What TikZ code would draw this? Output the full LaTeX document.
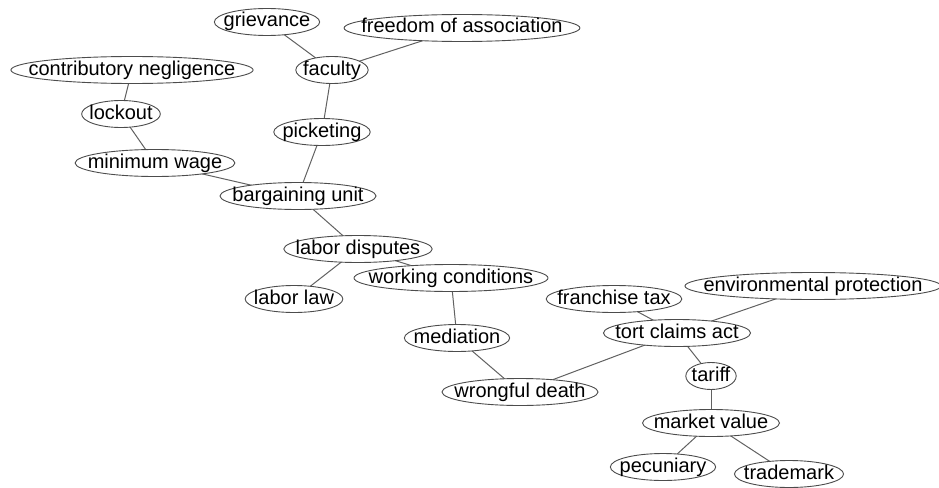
\documentclass[tikz,border=0pt]{standalone}
\usepackage{fontspec}
\setmainfont{Liberation Sans}
\usepackage{tikz}
\usetikzlibrary{calc,backgrounds}

\tikzset{term/.style={font=\fontsize{20}{22}\selectfont,inner sep=0pt,text height=14pt,text depth=4pt},
  link/.style={draw=black!62,line width=1pt},
  oval/.style={draw=black!70,fill=white,line width=0.9pt}}

\begin{document}
\begin{tikzpicture}[x=1pt,y=-1pt]
  \useasboundingbox (0,0) rectangle (939,487);
  \node (griev) at (267,22)[term]{grievance};
     \node (freedom) at (462,28)[term]{freedom of association};
  \node (contrib) at (132,70)[term]{contributory negligence};
     \node (faculty) at (332,70)[term]{faculty};
  \node (lockout) at (121,114)[term]{lockout};
     \node (picket) at (322,132)[term]{picketing};
  \node (minwage) at (155,163)[term]{minimum wage};
     \node (bargain) at (298,196)[term]{bargaining unit};
  \node (labdisp) at (358,249)[term]{labor disputes};
     \node (workcond) at (451,278)[term]{working conditions};
  \node (lablaw) at (294,299)[term]{labor law};
     \node (franch) at (614,299)[term]{franchise tax};
  \node (envprot) at (813,286)[term]{environmental protection};
     \node (tort) at (677,333)[term]{tort claims act};
  \node (mediat) at (457,338)[term]{mediation};
     \node (tariff) at (711,376)[term]{tariff};
  \node (wrongd) at (520,392)[term]{wrongful death};
     \node (market) at (711,423)[term]{market value};
  \node (pecun) at (663,467)[term]{pecuniary};
     \node (trade) at (789,474)[term]{trademark};
  \begin{scope}[on background layer]
    \draw [link] (griev.center) -- (faculty.center);
    \draw [link] (freedom.center) -- (faculty.center);
    \draw [link] (faculty.center) -- (picket.center);
    \draw [link] (contrib.center) -- (lockout.center);
    \draw [link] (lockout.center) -- (minwage.center);
    \draw [link] (minwage.center) -- (bargain.center);
    \draw [link] (picket.center) -- (bargain.center);
    \draw [link] (bargain.center) -- (labdisp.center);
    \draw [link] (labdisp.center) -- (lablaw.center);
    \draw [link] (labdisp.center) -- (workcond.center);
    \draw [link] (workcond.center) -- (mediat.center);
    \draw [link] (mediat.center) -- (wrongd.center);
    \draw [link] (wrongd.center) -- (tort.center);
    \draw [link] (franch.center) -- (tort.center);
    \draw [link] (envprot.center) -- (tort.center);
    \draw [link] (tort.center) -- (tariff.center);
    \draw [link] (tariff.center) -- (market.center);
    \draw [link] (market.center) -- (pecun.center);
    \draw [link] (market.center) -- (trade.center);
    \foreach \nd in {griev,freedom,contrib,faculty,lockout,picket,minwage,bargain,labdisp,workcond,
                    lablaw,franch,envprot,tort,mediat,tariff,wrongd,market,pecun,trade}
      \path [oval] let \p1=($(\nd.east)-(\nd.west)$) in (\nd.center) ellipse [x radius=0.57*\x1+3pt, y radius=13.5pt];
  \end{scope}
\end{tikzpicture}
\end{document}
